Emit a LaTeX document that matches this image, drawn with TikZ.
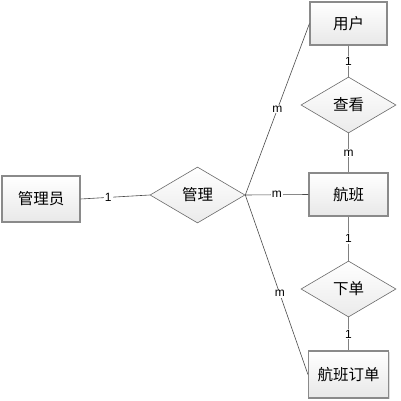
\documentclass[tikz,border=0pt]{standalone}
\usepackage{fontspec}
\newfontfamily\cjk{Noto Sans CJK SC}
\newfontfamily\lab{Liberation Sans}
\usetikzlibrary{shapes.geometric,shadows}
\definecolor{boxborder}{HTML}{8A8A8A}
\definecolor{diaborder}{HTML}{6A6A6A}
\definecolor{linec}{HTML}{4A4A4A}
\definecolor{vlinec}{HTML}{808080}
\tikzset{
  entity/.style={rectangle, draw=boxborder, line width=1.1pt, top color=white, bottom color=black!9,
    drop shadow={shadow xshift=1.2pt, shadow yshift=-1.2pt, opacity=0.25},
    font=\cjk\fontsize{15.5}{16}\selectfont, inner sep=0pt},
  relation/.style={diamond, draw=diaborder, line width=0.6pt, top color=white, bottom color=black!8,
    font=\cjk\fontsize{15.5}{16}\selectfont, inner sep=0pt, minimum width=95pt, minimum height=56pt},
  conn/.style={draw=linec, line width=0.6pt},
  vconn/.style={draw=vlinec, line width=1.3pt},
  card/.style={fill=white, inner sep=1pt, font=\lab\fontsize{12}{13}\selectfont, text=black}
}
\begin{document}
\begin{tikzpicture}[x=1pt,y=-1pt]
\useasboundingbox[fill=white] (0,0) rectangle (401,401);
\node[entity, minimum width=78pt, minimum height=46pt] (admin) at (41,199) {管理员};
\node[relation] (mgmt) at (197.5,195) {管理};
\node[entity, minimum width=77pt, minimum height=43pt] (user) at (348.5,23.5) {用户};
\node[relation] (view) at (348.5,105) {查看};
\node[entity, minimum width=79pt, minimum height=43pt] (flight) at (348.5,194.5) {航班};
\node[relation] (order) at (348.5,289) {下单};
\node[entity, minimum width=80pt, minimum height=47pt] (ticket) at (348.5,374.5) {航班订单};

\draw[conn] (admin.east) -- node[card, pos=0.4] (c1) {1} (mgmt.west);
\draw[conn] (mgmt.east) -- node[card, pos=0.5] (c2) {m} (user.west);
\draw[conn] (mgmt.east) -- node[card, pos=0.5] (c3) {m} (flight.west);
\draw[conn] (mgmt.east) -- node[card, pos=0.55] (c4) {m} (ticket.west);
\draw[vconn] (user.south) -- node[card] (c5) {1} (view.north);
\draw[vconn] (view.south) -- node[card] (c6) {m} (flight.north);
\draw[vconn] (flight.south) -- node[card] (c7) {1} (order.north);
\draw[vconn] (order.south) -- node[card] (c8) {1} (ticket.north);
\end{tikzpicture}
\end{document}
